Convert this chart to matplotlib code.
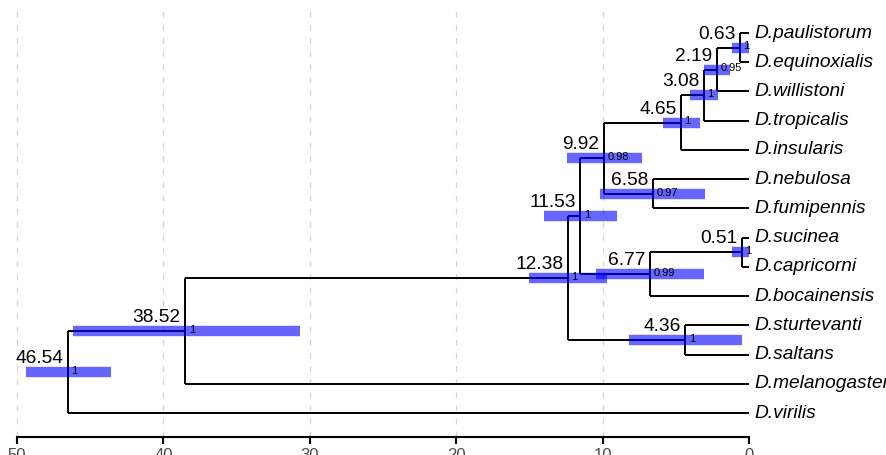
import matplotlib
matplotlib.use('Agg')
import matplotlib.pyplot as plt

plt.rcParams['font.family'] = ['Liberation Sans', 'DejaVu Sans']

# tips, listed bottom to top (y = 1..14)
tips = ['D.virilis', 'D.melanogaster', 'D.saltans', 'D.sturtevanti', 'D.bocainensis',
        'D.capricorni', 'D.sucinea', 'D.fumipennis', 'D.nebulosa', 'D.insularis',
        'D.tropicalis', 'D.willistoni', 'D.equinoxialis', 'D.paulistorum']

# internal nodes: name, children, age, hpd low, hpd high, posterior
node_names = ['n1', 'n2', 'n3', 'n4', 'n5', 'n6', 'n7', 'n8', 'n9', 'n10', 'n11', 'n12', 'n13']
node_children = [('D.paulistorum', 'D.equinoxialis'), ('n1', 'D.willistoni'),
                 ('n2', 'D.tropicalis'), ('n3', 'D.insularis'),
                 ('D.nebulosa', 'D.fumipennis'), ('n4', 'n5'),
                 ('D.sucinea', 'D.capricorni'), ('n7', 'D.bocainensis'),
                 ('n6', 'n8'), ('D.sturtevanti', 'D.saltans'), ('n9', 'n10'),
                 ('n11', 'D.melanogaster'), ('n12', 'D.virilis')]
node_ages = [0.63, 2.19, 3.08, 4.65, 6.58, 9.92, 0.51, 6.77, 11.53, 4.36, 12.38, 38.52, 46.54]
hpd_low = [0.0, 1.3, 2.1, 3.35, 3.0, 7.3, 0.0, 3.07, 9.0, 0.48, 9.7, 30.7, 43.6]
hpd_high = [1.16, 3.07, 4.03, 5.87, 10.2, 12.4, 1.16, 10.45, 14.0, 8.2, 15.0, 46.2, 49.4]
posterior = ['1', '0.95', '1', '1', '0.97', '0.98', '1', '0.99', '1', '1', '1', '1', '1']

xpos = {}
ypos = {}
for i, t in enumerate(tips):
    xpos[t] = 0.0
    ypos[t] = i + 1
for name, ch, age in zip(node_names, node_children, node_ages):
    xpos[name] = age
    ypos[name] = (ypos[ch[0]] + ypos[ch[1]]) / 2

fig = plt.figure(figsize=(8.86, 4.55), dpi=100)
ax = fig.add_axes([0, 18 / 455, 1, 1 - 18 / 455])

lw = 1.4
for name, ch in zip(node_names, node_children):
    nx, ny = xpos[name], ypos[name]
    ax.plot([nx, nx], [ypos[ch[0]], ypos[ch[1]]], color='black', lw=lw,
            solid_capstyle='butt', zorder=2)
    for c in ch:
        ax.plot([nx, xpos[c]], [ypos[c], ypos[c]], color='black', lw=lw,
                solid_capstyle='butt', zorder=2)

for name, lo, hi, age, pp in zip(node_names, hpd_low, hpd_high, node_ages, posterior):
    y = ypos[name]
    ax.plot([hi, lo], [y, y], color='blue', alpha=0.6, lw=7.5,
            solid_capstyle='butt', zorder=3)
    ax.text(age + 0.3, y + 0.17, f'{age:.2f}', ha='right', va='bottom', fontsize=13.8, zorder=4)
    ax.text(age - 0.25, y + 0.04, pp, ha='left', va='center', fontsize=8, zorder=4)

for t in tips:
    ax.text(-0.35, ypos[t], t, ha='left', va='center', fontsize=13.8, style='italic')

for g in [10, 20, 30, 40, 50]:
    ax.plot([g, g], [0.18, 14.95], color='#d4d4d4', lw=0.9,
            dashes=(4.5, 6), zorder=1)

ax.set_xlim(51.16, -9.36)
ax.set_ylim(0.18, 15.13)

for s in ['top', 'right', 'left']:
    ax.spines[s].set_visible(False)
ax.spines['bottom'].set_bounds(50, 0)
ax.spines['bottom'].set_linewidth(1.5)
ax.set_yticks([])
ax.set_xticks([50, 40, 30, 20, 10, 0])
ax.tick_params(axis='x', length=5, width=1.5, labelsize=12, labelcolor='#4d4d4d', pad=3)

fig.savefig('out.png', dpi=100)
